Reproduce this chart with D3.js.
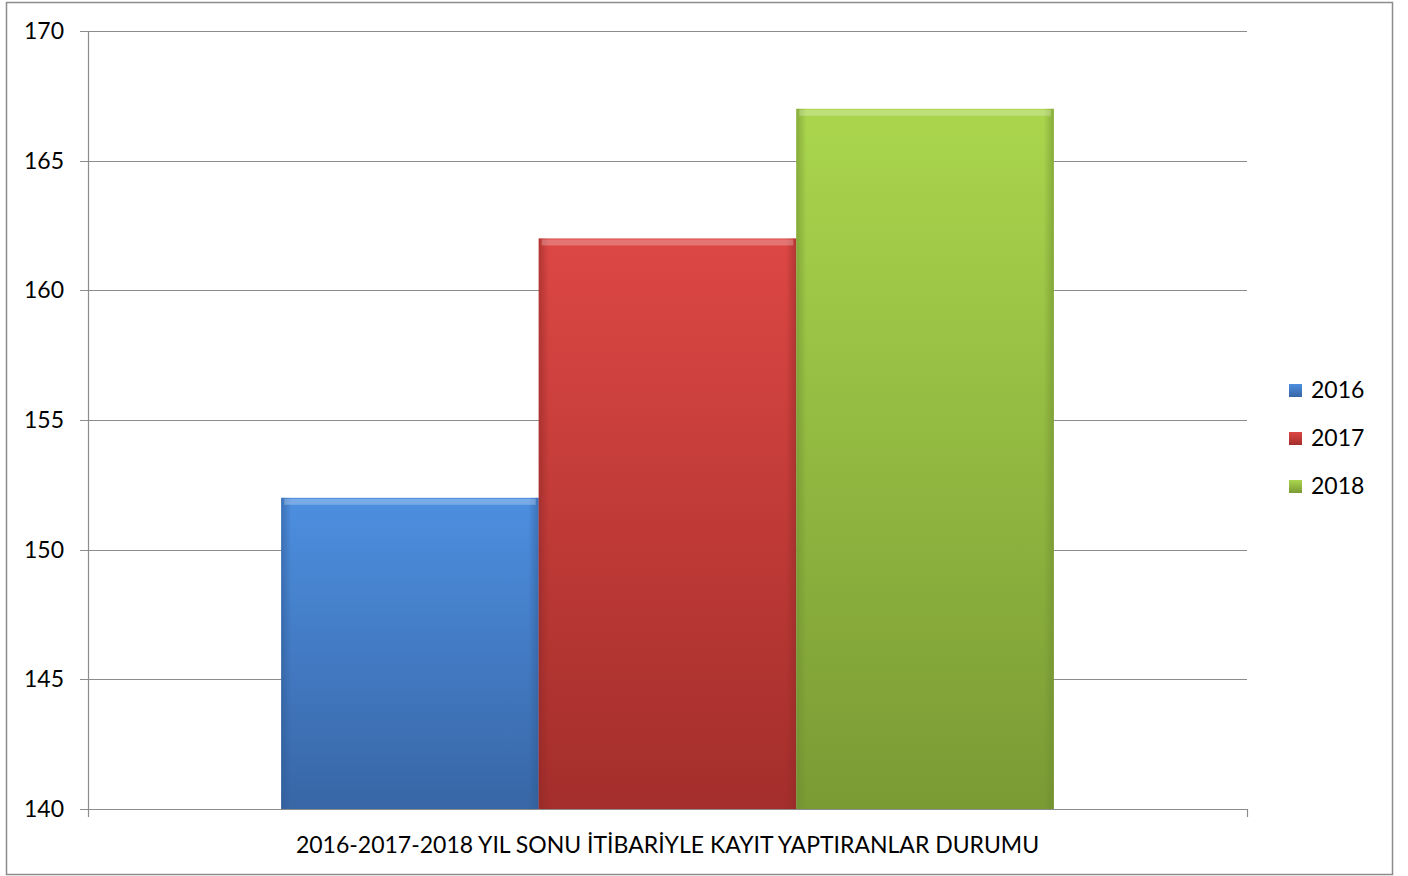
<!DOCTYPE html>
<html>
<head>
<meta charset="utf-8">
<script src="https://cdn.jsdelivr.net/npm/d3@7"></script>
<style>
  body { margin: 0; background: #fff; }
  text { font-family: Lato, "Open Sans", sans-serif; fill: #000; }
</style>
</head>
<body>
<svg id="chart" width="1408" height="876"></svg>
<script>
// data
const category = '2016-2017-2018 YIL SONU İTİBARİYLE KAYIT YAPTIRANLAR DURUMU';
const years = ['2016', '2017', '2018'];
const values = [152, 162, 167];
const yTicks = [140, 145, 150, 155, 160, 165, 170];

// colours: top, bottom, edge
const palette = {
  '2016': ['#4d8fe0', '#3866a6', '#2f5a94'],
  '2017': ['#dc4744', '#a32e2b', '#8f2826'],
  '2018': ['#aad64d', '#7a9a34', '#6c8a2e']
};

const svg = d3.select('#chart');
const plotL = 88, plotR = 1247, plotT = 31, plotB = 809;

// outer border
svg.append('rect')
  .attr('x', 6.5).attr('y', 2.5)
  .attr('width', 1386).attr('height', 872)
  .attr('fill', 'none').attr('stroke', '#8c8c8c').attr('stroke-width', 1.5);

const y = d3.scaleLinear().domain([140, 170]).range([plotB, plotT]);
const x0 = d3.scaleBand().domain([category]).range([plotL, plotR]);
// gap width 150% -> bars take 3/(3+1.5) of band
const barW = (plotR - plotL) / 4.5;
const x1 = d3.scaleBand().domain(years)
  .range([plotL + barW * 0.75, plotR - barW * 0.75]);

// gradients
const defs = svg.append('defs');
years.forEach(yr => {
  const g = defs.append('linearGradient').attr('id', 'g' + yr)
    .attr('x1', 0).attr('y1', 0).attr('x2', 0).attr('y2', 1);
  g.append('stop').attr('offset', '0%').attr('stop-color', palette[yr][0]);
  g.append('stop').attr('offset', '100%').attr('stop-color', palette[yr][1]);
  const h = defs.append('linearGradient').attr('id', 'h' + yr)
    .attr('x1', 0).attr('y1', 0).attr('x2', 1).attr('y2', 0);
  h.append('stop').attr('offset', '0%').attr('stop-color', palette[yr][2]).attr('stop-opacity', 0.55);
  h.append('stop').attr('offset', '4%').attr('stop-color', palette[yr][2]).attr('stop-opacity', 0);
  h.append('stop').attr('offset', '96%').attr('stop-color', palette[yr][2]).attr('stop-opacity', 0);
  h.append('stop').attr('offset', '100%').attr('stop-color', palette[yr][2]).attr('stop-opacity', 0.55);
});

// gridlines
svg.append('g').selectAll('line').data(yTicks).join('line')
  .attr('x1', plotL - 8).attr('x2', plotR)
  .attr('y1', d => Math.round(y(d)) + 0.5).attr('y2', d => Math.round(y(d)) + 0.5)
  .attr('stroke', '#8c8c8c').attr('stroke-width', 1.2);

// y axis line
svg.append('line')
  .attr('x1', plotL + 0.5).attr('x2', plotL + 0.5)
  .attr('y1', plotT).attr('y2', plotB + 8)
  .attr('stroke', '#8c8c8c').attr('stroke-width', 1.2);
// x axis end tick
svg.append('line')
  .attr('x1', plotR + 0.5).attr('x2', plotR + 0.5)
  .attr('y1', plotB).attr('y2', plotB + 8)
  .attr('stroke', '#8c8c8c').attr('stroke-width', 1.2);

// y labels
svg.append('g').selectAll('text').data(yTicks).join('text')
  .attr('x', 64).attr('y', d => y(d))
  .attr('dy', '0.35em')
  .attr('text-anchor', 'end')
  .style('font-size', '23px')
  .text(d => d);

// bars
const bars = svg.append('g').selectAll('g').data(years).join('g');
bars.append('rect')
  .attr('x', d => x1(d))
  .attr('y', (d, i) => y(values[i]))
  .attr('width', x1.bandwidth())
  .attr('height', (d, i) => y(140) - y(values[i]))
  .attr('fill', d => `url(#g${d})`);
bars.append('rect')
  .attr('x', d => x1(d))
  .attr('y', (d, i) => y(values[i]))
  .attr('width', x1.bandwidth())
  .attr('height', (d, i) => y(140) - y(values[i]))
  .attr('fill', d => `url(#h${d})`);
// bevel highlight on top
bars.append('rect')
  .attr('x', d => x1(d) + 3)
  .attr('y', (d, i) => y(values[i]) + 1)
  .attr('width', x1.bandwidth() - 6)
  .attr('height', 6)
  .attr('fill', '#fff').attr('opacity', 0.25);

// x category label
svg.append('text')
  .attr('x', x0(category) + x0.bandwidth() / 2)
  .attr('y', 853)
  .attr('text-anchor', 'middle')
  .style('font-size', '23px')
  .text(category);

// legend
const legend = svg.append('g').selectAll('g').data(years).join('g')
  .attr('transform', (d, i) => `translate(1289, ${390 + i * 48})`);
legend.append('rect')
  .attr('x', 0).attr('y', -6).attr('width', 13).attr('height', 13)
  .attr('fill', d => `url(#g${d})`);
legend.append('text')
  .attr('x', 22).attr('y', 0).attr('dy', '0.35em')
  .style('font-size', '23px')
  .text(d => d);
</script>
</body>
</html>
